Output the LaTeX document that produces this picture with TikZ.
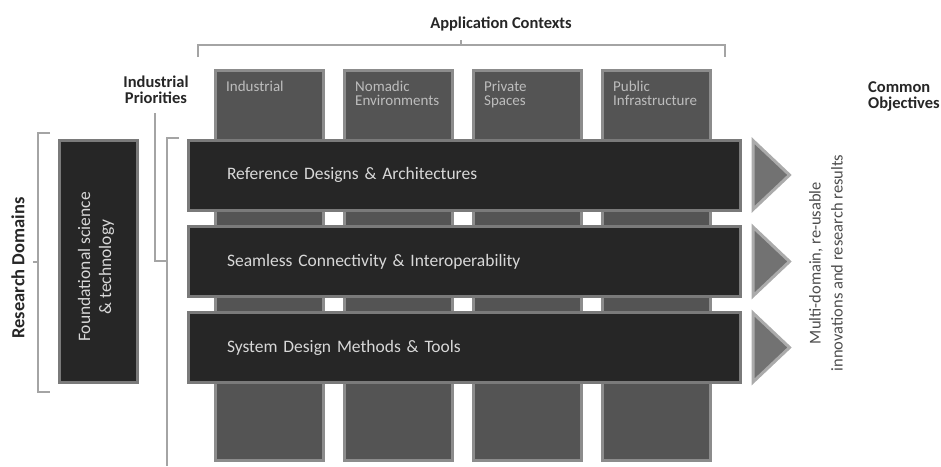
\documentclass[tikz,border=0pt]{standalone}
\usepackage{fontspec}
\setmainfont{Carlito}
\usepackage{tikz}
\usetikzlibrary{positioning}

\definecolor{barfill}{HTML}{262626}
\definecolor{barline}{HTML}{7A7A7A}
\definecolor{colfill}{HTML}{545454}
\definecolor{colline}{HTML}{8C8C8C}
\definecolor{trifill}{HTML}{727272}
\definecolor{triline}{HTML}{ABABAB}
\definecolor{bracket}{HTML}{A4A4A4}
\definecolor{bartext}{HTML}{D8D8D8}
\definecolor{coltext}{HTML}{BDBDBD}

\tikzset{
  colbox/.style={draw=colline, fill=colfill, line width=3pt, inner sep=0pt,
    minimum width=108pt, minimum height=390pt, anchor=north west},
  collabel/.style={text=coltext, anchor=north west, inner sep=0pt, align=left,
    font=\fontsize{15}{14.5}\selectfont},
  bar/.style={draw=barline, fill=barfill, line width=3pt, text=bartext,
    minimum width=552pt, minimum height=70pt, inner xsep=38.5pt,
    text width=475pt, align=left, font=\fontsize{17.5}{19}\selectfont},
  arrowhead/.style={draw=triline, fill=trifill, line width=3pt, line join=miter},
  brace/.style={draw=bracket, line width=1.2pt},
  heading/.style={text=black!85, align=center, inner sep=0pt,
    font=\fontsize{16.5}{16.5}\selectfont\bfseries}
}

\begin{document}
\begin{tikzpicture}[x=1pt, y=-1pt]
\useasboundingbox (0,0) rectangle (941,466);

% Application context columns (behind the bars)
\foreach \i/\x/\lab in {1/213.5/Industrial,
                        2/342.5/{Nomadic\\Environments},
                        3/471.5/{Private\\Spaces},
                        4/600.5/{Public\\Infrastructure}} {
  \node[colbox] (col\i) at (\x,68.5) {};
  \node[collabel] (collab\i) at (\x+12.5,80.5) {\lab};
}

% Industrial priority bars
\node[bar] (ref) at (464.5,175) {Reference Designs \& Architectures};
\node[bar] (sci) at (464.5,261.5) {Seamless Connectivity \& Interoperability};
\node[bar] (sdm) at (464.5,347.5) {System Design Methods \& Tools};

% Arrow heads to the right of each bar
\foreach \b in {ref,sci,sdm}
  \draw[arrowhead] ([xshift=11pt,yshift=-2pt]\b.north east)
    -- ([xshift=47.5pt]\b.east)
    -- ([xshift=11pt,yshift=2pt]\b.south east) -- cycle;

% Research domain box
\node[bar, rotate=90, minimum width=242pt, minimum height=78pt,
  text width=, inner xsep=4pt] (found) at (98.5,261.5) {};
\node[text=bartext, rotate=90, align=center,
  font=\fontsize{17.5}{21}\selectfont] (foundlab) at (96,267)
  {Foundational science\\\& technology};

% Headings
\node[heading] (appctx) at (501,24) {Application Contexts};
\node[heading] (prio) at (156,90) {Industrial\\Priorities};
\node[heading, align=left, anchor=north east] (obj) at (940,81) {Common\\Objectives};
\node[heading, rotate=90, font=\fontsize{18.5}{19}\selectfont\bfseries]
  (resdom) at (18,268) {Research Domains};
\node[text=black!70, rotate=90, align=center,
  font=\fontsize{16.5}{22}\selectfont] (results) at (826,263)
  {Multi-domain, re-usable\\innovations and research results};

% Brackets
\draw[brace] (198,57) -- (198,45) -- (725,45) -- (725,57);
\draw[brace] (461,45) -- (461,40);
\draw[brace] (50,133) -- (38,133) -- (38,392) -- (50,392);
\draw[brace] (38,262) -- (33,262);
\draw[brace] (179,138) -- (167,138) -- (167,466);
\draw[brace] (155,113) -- (155,261) -- (167,261);

\end{tikzpicture}
\end{document}
